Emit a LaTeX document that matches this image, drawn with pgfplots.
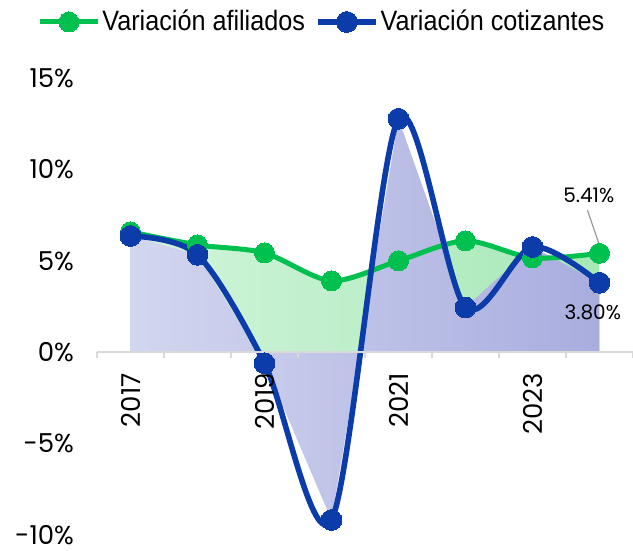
\documentclass[border=0pt]{standalone}
\usepackage{pgfplots}
\pgfplotsset{compat=1.18}
\usepackage{fontspec}
\setmainfont{Poppins}
\newfontfamily\legfont[FakeStretch=0.9]{Liberation Sans}
\definecolor{cgreen}{HTML}{00C050}
\definecolor{cblue}{HTML}{0B3CAA}
\definecolor{ga}{HTML}{D2F5DC}
\definecolor{gb}{HTML}{A6E8B6}
\definecolor{ba}{HTML}{D3D6EF}
\definecolor{bb}{HTML}{A8ADDF}
\begin{document}
\begin{tikzpicture}
\begin{axis}[
  scale only axis, width=268pt, height=228.5pt,
  xmin=-0.5, xmax=7.5, ymin=-10, ymax=15,
  clip=false, axis on top,
  axis x line*=middle, axis y line*=left,
  x axis line style={draw=black!15, line width=0.8pt},
  y axis line style={draw=none},
  xtick={0,2,4,6},
  xticklabels={2017,2019,2021,2023},
  minor xtick={-0.5,0.5,1.5,2.5,3.5,4.5,5.5,6.5,7.5},
  tick align=outside,
  xtick style={draw=none},
  minor x tick style={draw=black!15, line width=0.8pt},
  major tick length=0pt,
  minor tick length=3pt,
  xticklabel style={rotate=90, anchor=east, xshift=-7pt},
  ytick={-10,-5,0,5,10,15},
  yticklabels={-10\%,-5\%,0\%,5\%,10\%,15\%},
  ytick style={draw=none},
  yticklabel style={anchor=east, xshift=-8pt},
  tick label style={font=\fontsize{13}{15}\selectfont},
  /pgf/number format/assume math mode=true,
  legend columns=2,
  legend style={draw=none, fill=none, at={(axis description cs:0,1)}, anchor=west,
     xshift=-33pt, yshift=28pt, font=\legfont\fontsize{14}{16}\selectfont,
     /tikz/every even column/.append style={column sep=4pt},
     nodes={inner xsep=1pt}},
  legend image code/.code={\draw[#1, mark repeat=2, mark phase=2] plot coordinates {(0pt,0pt)(14.5pt,0pt)(29pt,0pt)};},
]
% areas
\addplot[draw=none, left color=ga, right color=gb, forget plot] coordinates {
 (0,0) (0,6.58) (1,5.87) (2,5.43) (3,3.91) (4,5.0) (5,6.09) (6,5.16) (7,5.41) (7,0)} -- cycle;
\addplot[draw=none, left color=ba, right color=bb, forget plot] coordinates {
 (0,0) (0,6.36) (1,5.33) (2,-0.6) (3,-9.18) (4,12.77) (5,2.45) (6,5.76) (7,3.80) (7,0)} -- cycle;
% lines
\addplot[smooth, color=cgreen, line width=2.5pt, mark=*, mark size=5pt,
  mark options={fill=cgreen, draw=cgreen, line width=0pt}] coordinates {
 (0,6.58) (1,5.87) (2,5.43) (3,3.91) (4,5.0) (5,6.09) (6,5.16) (7,5.41)};
\addlegendentry{Variación afiliados}
\addplot[smooth, color=cblue, line width=2.8pt, mark=*, mark size=5.2pt,
  mark options={fill=cblue, draw=cblue, line width=0pt}] coordinates {
 (0,6.36) (1,5.33) (2,-0.6) (3,-9.18) (4,12.77) (5,2.45) (6,5.76) (7,3.80)};
\addlegendentry{Variación cotizantes}
% data labels
\draw[black!40, line width=0.6pt] (axis cs:6.82,7.77) -- (axis cs:7.0,5.85);
\draw[black!40, line width=0.6pt] (axis cs:6.99,3.77) -- (axis cs:6.90,3.17);
\node[font=\fontsize{10}{12}\selectfont, inner sep=0pt] at (axis cs:6.84,8.6) {5.41\%};
\node[font=\fontsize{10}{12}\selectfont, inner sep=0pt] at (axis cs:6.90,2.19) {3.80\%};
\end{axis}
\pgfresetboundingbox
\path (-48.5pt,-8pt) rectangle (268pt,267.5pt);
\end{tikzpicture}
\end{document}
